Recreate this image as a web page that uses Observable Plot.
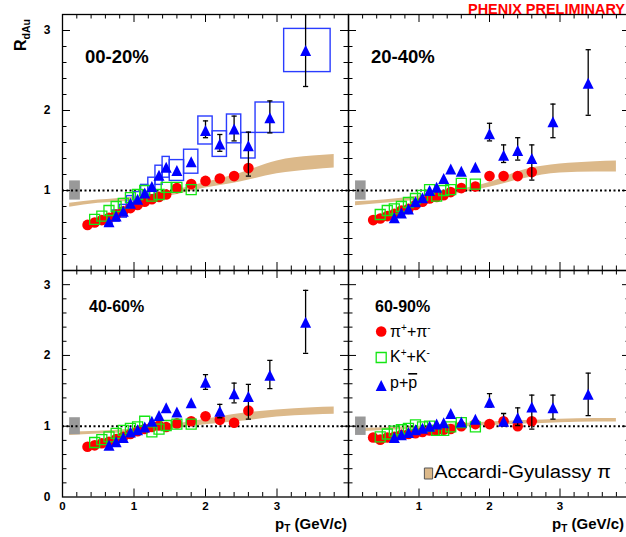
<!DOCTYPE html>
<html><head><meta charset="utf-8">
<script src="https://cdn.jsdelivr.net/npm/d3@7"></script>
<script src="https://cdn.jsdelivr.net/npm/@observablehq/plot@0.6"></script>
<style>
html,body{margin:0;padding:0;background:#fff;}
#chart{position:relative;width:626px;height:537px;overflow:hidden;font-family:"Liberation Sans",Arial,Helvetica,sans-serif;background:#fff;}
#chart svg{position:absolute;overflow:visible;}
</style></head><body><div id="chart"></div>
<script>
// ---------------- data ----------------
const centralities = ["00-20%", "20-40%", "40-60%", "60-90%"];

// pions (pi+ + pi-)
const piPt = [0.35,0.45,0.55,0.65,0.75,0.85,0.95,1.05,1.15,1.25,1.35,1.45,1.6,1.8,2.0,2.2,2.4,2.6];
const piR_00_20 = [0.57,0.60,0.63,0.66,0.70,0.74,0.78,0.82,0.86,0.89,0.92,0.95,1.03,1.08,1.12,1.15,1.18,1.28];
const piR_20_40 = [0.63,0.65,0.68,0.71,0.75,0.77,0.82,0.86,0.90,0.92,0.94,0.98,1.03,1.05,1.18,1.18,1.18,1.23];
const piR_40_60 = [0.71,0.73,0.76,0.78,0.82,0.85,0.89,0.93,0.96,0.99,1.01,0.99,1.04,1.07,1.14,1.09,1.05,1.22];
const piR_60_90 = [0.84,0.81,0.84,0.85,0.88,0.89,0.90,0.92,0.94,0.94,0.95,0.96,1.00,1.03,1.03,1.07,1.00,1.07];

// kaons (K+ + K-)
const kPt = [0.45,0.55,0.65,0.75,0.85,0.95,1.05,1.15,1.25,1.35,1.45,1.6,1.8];
const kR_00_20 = [0.64,0.68,0.75,0.80,0.84,0.91,0.95,1.00,0.93,0.95,1.04,1.04,1.01];
const kR_20_40 = [0.70,0.75,0.77,0.80,0.85,0.90,0.94,1.01,0.93,1.00,1.01,1.09,1.08];
const kR_40_60 = [0.77,0.81,0.85,0.90,0.94,0.97,0.99,1.07,0.92,0.96,1.01,1.03,1.03];
const kR_60_90 = [0.85,0.89,0.93,0.95,0.97,1.02,0.99,1.00,0.94,0.94,0.99,1.05,0.99];

// protons (p + pbar)
const pPt = [0.65,0.75,0.85,0.95,1.05,1.15,1.25,1.35,1.45,1.6,1.8,2.0,2.2,2.4,2.6,2.9,3.4];
const pR_00_20 = [0.61,0.68,0.74,0.84,0.89,0.97,1.05,1.19,1.29,1.25,1.36,1.75,1.58,1.77,1.56,1.91,2.75];
const pR_20_40 = [0.66,0.72,0.77,0.86,0.91,1.00,1.04,1.15,1.27,1.24,1.29,1.71,1.44,1.50,1.40,1.86,2.34];
const pR_40_60 = [0.73,0.78,0.84,0.92,0.95,0.99,1.07,1.15,1.26,1.20,1.33,1.62,1.21,1.46,1.42,1.72,2.47];
const pR_60_90 = [0.84,0.88,0.91,0.95,0.97,1.00,1.03,1.05,1.18,1.06,1.10,1.34,1.07,1.12,1.27,1.26,1.45];

// proton bin edges and systematic errors (shown for 00-20%)
const pBinLo = [0.6,0.7,0.8,0.9,1.0,1.1,1.2,1.3,1.4,1.5,1.7,1.9,2.1,2.3,2.5,2.7,3.1];
const pBinHi = [0.7,0.8,0.9,1.0,1.1,1.2,1.3,1.4,1.5,1.7,1.9,2.1,2.3,2.5,2.7,3.1,3.75];
const pSys_00_20 = [0.06,0.07,0.08,0.09,0.09,0.10,0.11,0.12,0.13,0.13,0.15,0.175,0.16,0.18,0.16,0.19,0.27];

// proton statistical error bars (high pT)
const errPt = [2.0,2.2,2.4,2.6,2.9,3.4];
const errLo_00_20 = [1.66,1.49,1.62,1.18,1.72,2.30];
const errHi_00_20 = [1.87,1.70,1.93,1.73,2.12,3.25];
const errLo_20_40 = [1.62,1.35,1.38,1.13,1.66,1.94];
const errHi_20_40 = [1.84,1.57,1.66,1.57,2.08,2.76];
const errLo_40_60 = [1.52,1.12,1.33,1.10,1.53,2.03];
const errHi_40_60 = [1.73,1.31,1.61,1.59,1.93,2.92];
const errLo_60_90 = [1.27,1.00,1.01,0.96,1.10,1.15];
const errHi_60_90 = [1.46,1.18,1.26,1.44,1.44,1.75];

// Accardi-Gyulassy pi band
const bandPt = [0.1,0.5,1.0,1.5,2.0,2.5,3.0,3.5,3.8];
const bandLo_00_20 = [0.79,0.84,0.87,0.93,1.03,1.11,1.21,1.26,1.28];
const bandHi_00_20 = [0.84,0.88,0.92,0.99,1.10,1.22,1.37,1.43,1.45];
const bandLo_20_40 = [0.81,0.84,0.88,0.95,1.04,1.15,1.22,1.23,1.23];
const bandHi_20_40 = [0.86,0.88,0.93,1.00,1.10,1.26,1.33,1.36,1.37];
const bandLo_40_60 = [0.87,0.89,0.92,0.96,1.02,1.07,1.13,1.16,1.17];
const bandHi_40_60 = [0.92,0.93,0.96,1.02,1.10,1.18,1.23,1.26,1.27];
const bandLo_60_90 = [0.92,0.94,0.96,0.98,1.01,1.03,1.05,1.06,1.06];
const bandHi_60_90 = [0.97,0.98,1.00,1.03,1.06,1.08,1.10,1.11,1.11];

// normalization uncertainty box
const normPt = [0.1, 0.25];
const normErr = [0.12, 0.12, 0.12, 0.13];

// tick values
const yTickMajor = [1, 2, 3];
const yTickMinor = [0.2,0.4,0.6,0.8,1.2,1.4,1.6,1.8,2.2,2.4,2.6,2.8];
const xTickMajor = [1, 2, 3];
const xTickMinor = [0.2,0.4,0.6,0.8,1.2,1.4,1.6,1.8,2.2,2.4,2.6,2.8,3.2,3.4,3.6,3.8];
const yLabelsTop = [1, 2, 3];
const yLabelsBottom = [0, 1, 2, 3];
const xLabelsLeft = [0, 1, 2, 3];
const xLabelsRight = [1, 2, 3];

// ---------------- build ----------------
const piR = [piR_00_20, piR_20_40, piR_40_60, piR_60_90];
const kR = [kR_00_20, kR_20_40, kR_40_60, kR_60_90];
const pR = [pR_00_20, pR_20_40, pR_40_60, pR_60_90];
const errLo = [errLo_00_20, errLo_20_40, errLo_40_60, errLo_60_90];
const errHi = [errHi_00_20, errHi_20_40, errHi_40_60, errHi_60_90];
const bandLo = [bandLo_00_20, bandLo_20_40, bandLo_40_60, bandLo_60_90];
const bandHi = [bandHi_00_20, bandHi_20_40, bandHi_40_60, bandHi_60_90];

const RED = "#ff0000", GREEN = "#14e614", BLUE = "#0000ff", TAN = "#dcb98a";

const triSym = {draw(ctx, size) { const r = Math.sqrt(size / Math.PI); ctx.moveTo(0, -r); ctx.lineTo(r, r); ctx.lineTo(-r, r); ctx.closePath(); }};
const sqSym = {draw(ctx, size) { const r = Math.sqrt(size / Math.PI); ctx.moveTo(-r, -r); ctx.lineTo(r, -r); ctx.lineTo(r, r); ctx.lineTo(-r, r); ctx.closePath(); }};
const capSym = {draw(ctx, size) { const r = Math.sqrt(size / Math.PI); ctx.moveTo(-r, 0); ctx.lineTo(r, 0); }};
const legSym = {draw(ctx, size) { const r = Math.sqrt(size / Math.PI); ctx.moveTo(-0.75*r, -r); ctx.lineTo(0.75*r, -r); ctx.lineTo(0.75*r, r); ctx.lineTo(-0.75*r, r); ctx.closePath(); }};

const layout = [
  {left: 0,   top: 0,   width: 348, height: 270, mL: 62, mT: 14, mB: 0,    yLab: yLabelsTop,    xLab: null},
  {left: 348, top: 0,   width: 282, height: 270, mL: 0,  mT: 14, mB: 0,    yLab: null,          xLab: null},
  {left: 0,   top: 270, width: 348, height: 267, mL: 62, mT: 0,  mB: 40.5, yLab: yLabelsBottom, xLab: xLabelsLeft},
  {left: 348, top: 270, width: 282, height: 267, mL: 0,  mT: 0,  mB: 40.5, yLab: null,          xLab: xLabelsRight}
];

const chart = document.getElementById("chart");
const fmt = d => String(d);

layout.forEach((L, k) => {
  const fw = L.width - L.mL, fh = L.height - L.mT - L.mB;
  const pions = piPt.map((x, i) => ({x, y: piR[k][i]}));
  const kaons = kPt.map((x, i) => ({x, y: kR[k][i]}));
  const protons = pPt.map((x, i) => ({x, y: pR[k][i], lo: pBinLo[i], hi: pBinHi[i]}));
  const errs = errPt.map((x, i) => ({x, y1: errLo[k][i], y2: errHi[k][i]}));
  const band = bandPt.map((x, i) => ({x, lo: bandLo[k][i], hi: bandHi[k][i]}));
  const norm = [{x1: normPt[0], x2: normPt[1], y1: 1 - normErr[k], y2: 1 + normErr[k]}];

  const marks = [
    Plot.areaY(band, {x: "x", y1: "lo", y2: "hi", fill: TAN, curve: "monotone-x"}),
    Plot.rect(norm, {x1: "x1", x2: "x2", y1: "y1", y2: "y2", fill: "#999999"}),
    Plot.ruleY([1], {stroke: "black", strokeWidth: 2, strokeDasharray: "2,2.5"})
  ];
  if (k === 0) {
    const sys = protons.map((d, i) => ({x1: d.lo, x2: d.hi, y1: d.y - pSys_00_20[i], y2: d.y + pSys_00_20[i]}));
    marks.push(Plot.rect(sys, {x1: "x1", x2: "x2", y1: "y1", y2: "y2", fill: "none", stroke: "#2a3cff", strokeWidth: 1.4, clip: true}));
  }
  marks.push(
    Plot.dot(pions, {x: "x", y: "y", r: 5.3, fill: RED}),
    Plot.dot(kaons, {x: "x", y: "y", symbol: sqSym, r: 5, fill: "none", stroke: GREEN, strokeWidth: 1.3}),
    Plot.ruleX(errs, {x: "x", y1: "y1", y2: "y2", stroke: "black", strokeWidth: 1.3, clip: true}),
    Plot.dot(errs, {x: "x", y: "y1", symbol: capSym, r: 2.6, stroke: "black", fill: "none", strokeWidth: 1.3, clip: true}),
    Plot.dot(errs, {x: "x", y: "y2", symbol: capSym, r: 2.6, stroke: "black", fill: "none", strokeWidth: 1.3, clip: true}),
    Plot.dot(protons, {x: "x", y: "y", symbol: triSym, r: 5.5, fill: BLUE}),
    // inward ticks on all four sides
    Plot.tickY(yTickMajor, {stroke: "black", insetRight: fw - 8}),
    Plot.tickY(yTickMinor, {stroke: "black", insetRight: fw - 4.5}),
    Plot.tickY(yTickMajor, {stroke: "black", insetLeft: fw - 8}),
    Plot.tickY(yTickMinor, {stroke: "black", insetLeft: fw - 4.5}),
    Plot.tickX(xTickMajor, {stroke: "black", insetTop: fh - 8}),
    Plot.tickX(xTickMinor, {stroke: "black", insetTop: fh - 4.5}),
    Plot.tickX(xTickMajor, {stroke: "black", insetBottom: fh - 8}),
    Plot.tickX(xTickMinor, {stroke: "black", insetBottom: fh - 4.5}),
    Plot.frame({stroke: "black", strokeWidth: 1.3})
  );
  if (L.yLab) marks.push(Plot.axisY(L.yLab, {tickSize: 0, tickPadding: 12, tickFormat: fmt, fontWeight: "bold", fontSize: 12, label: null}));
  if (L.xLab) marks.push(Plot.axisX(L.xLab, {tickSize: 0, tickPadding: 5, tickFormat: fmt, fontWeight: "bold", fontSize: 11.5, label: null}));
  if (k === 3) {
    marks.push(
      Plot.dot([0], {frameAnchor: "top-left", dx: 32.7, dy: 61, r: 5.3, fill: RED}),
      Plot.dot([0], {frameAnchor: "top-left", dx: 32.7, dy: 87, symbol: sqSym, r: 5, fill: "none", stroke: GREEN, strokeWidth: 1.3}),
      Plot.dot([0], {frameAnchor: "top-left", dx: 32.7, dy: 115, symbol: triSym, r: 5.5, fill: BLUE}),
      Plot.dot([0], {frameAnchor: "top-left", dx: 80, dy: 203, symbol: legSym, r: 5.5, fill: TAN, stroke: "#555", strokeWidth: 1})
    );
  }

  const p = Plot.plot({
    width: L.width, height: L.height,
    marginLeft: L.mL, marginRight: 0, marginTop: L.mT, marginBottom: L.mB,
    x: {domain: [0, 4], axis: L.xLab ? undefined : null, label: null},
    y: {domain: [0, 3.2], axis: L.yLab ? undefined : null, label: null},
    style: {fontFamily: "'Liberation Sans', Arial, Helvetica, sans-serif", fontSize: "12px", color: "black", background: "transparent", overflow: "visible"},
    marks
  });
  p.style.left = L.left + "px";
  p.style.top = L.top + "px";
  chart.appendChild(p);
});

// ---------------- text overlay ----------------
const ov = d3.select(chart).append("svg")
  .attr("width", 626).attr("height", 537)
  .style("left", "0px").style("top", "0px").style("pointer-events", "none")
  .attr("font-family", "'Liberation Sans', Arial, Helvetica, sans-serif");

ov.append("text").attr("x", 625).attr("y", 13.5).attr("text-anchor", "end")
  .attr("font-size", 14).attr("font-weight", "bold").attr("fill", RED)
  .attr("textLength", 157).attr("lengthAdjust", "spacingAndGlyphs").text("PHENIX PRELIMINARY");

const ry = ov.append("text").attr("transform", "translate(26,51) rotate(-90)")
  .attr("font-size", 16).attr("font-weight", "bold");
ry.append("tspan").text("R");
ry.append("tspan").attr("font-size", 10.5).attr("dy", 4).text("dAu");

[[347, 529], [624, 529]].forEach(([x, y]) => {
  const t = ov.append("text").attr("x", x).attr("y", y).attr("text-anchor", "end")
    .attr("font-size", 15).attr("font-weight", "bold");
  t.append("tspan").text("p");
  t.append("tspan").attr("font-size", 10).attr("dy", 3).text("T");
  t.append("tspan").attr("dy", -3).text(" (GeV/c)");
});

const panelLabelPos = [[85, 63, 18.5], [371, 63, 18.5], [89, 312, 16], [375, 312, 16]];
centralities.forEach((c, i) => {
  const [x, y, fs] = panelLabelPos[i];
  ov.append("text").attr("x", x).attr("y", y).attr("font-size", fs).attr("font-weight", "bold").text(c);
});

function chargedPair(x, y, base) {
  const t = ov.append("text").attr("x", x).attr("y", y).attr("font-size", 16);
  t.append("tspan").text(base);
  t.append("tspan").attr("font-size", 10).attr("dy", -6).text("+");
  t.append("tspan").attr("dy", 6).text("+" + base);
  t.append("tspan").attr("font-size", 10).attr("dy", -6).text("-");
}
chargedPair(390, 337, "π");
chargedPair(390, 362, "K");
const pt = ov.append("text").attr("x", 390).attr("y", 388).attr("font-size", 16);
pt.append("tspan").text("p+");
pt.append("tspan").style("text-decoration", "overline").text("p");

ov.append("text").attr("x", 434).attr("y", 478).attr("font-size", 18)
  .attr("textLength", 177).attr("lengthAdjust", "spacingAndGlyphs").text("Accardi-Gyulassy π");
</script>
</body></html>
